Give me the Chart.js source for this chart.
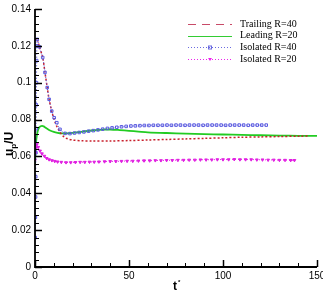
<!DOCTYPE html>
<html><head><meta charset="utf-8">
<script src="https://cdn.jsdelivr.net/npm/chart.js@4/dist/chart.umd.min.js"></script>
<style>html,body{margin:0;padding:0;background:#fff;}</style>
</head><body>
<canvas id="c" width="323" height="295" style="display:block;width:323px;height:295px"></canvas>
<script>
// ---- data (t*, u_p/U) ----
const xTickValues = [0, 50, 100, 150];
const xTickLabels = ['0', '50', '100', '150'];
const yTickValues = [0, 0.02, 0.04, 0.06, 0.08, 0.1, 0.12, 0.14];
const yTickLabels = ['0', '0.02', '0.04', '0.06', '0.08', '0.1', '0.12', '0.14'];

const seriesNames = ['Trailing R=40', 'Leading R=20', 'Isolated R=40', 'Isolated R=20'];

const trailingT = [0, 1, 2.3, 4.1, 5.3, 6.5, 7.5, 8.9, 10.2, 11.6, 13.3, 15, 17, 20, 25, 30, 40, 50, 60, 70, 80, 90, 100, 110, 120, 130, 141, 146];
const trailingU = [0.123, 0.124, 0.1195, 0.1137, 0.1056, 0.0974, 0.091, 0.0846, 0.0800, 0.0763, 0.0733, 0.0710, 0.0697, 0.0689, 0.0685, 0.0684, 0.0684, 0.0686, 0.0689, 0.0692, 0.0695, 0.0698, 0.0701, 0.0704, 0.0706, 0.0708, 0.0710, 0.0711];

const leadingT = [0, 0.3, 0.6, 1, 1.5, 2.2, 3, 3.8, 4.6, 5.5, 6.5, 8, 10, 12, 14, 17, 20, 24, 28, 32, 36, 40, 45, 50, 55, 60, 70, 80, 90, 100, 110, 120, 130, 140, 150];
const leadingU = [0.056, 0.063, 0.068, 0.0715, 0.074, 0.0757, 0.0764, 0.0766, 0.0763, 0.0757, 0.0750, 0.0741, 0.0733, 0.0728, 0.0725, 0.0725, 0.0728, 0.0733, 0.0738, 0.0742, 0.0745, 0.0746, 0.0743, 0.0739, 0.0735, 0.0731, 0.0727, 0.0724, 0.0721, 0.0719, 0.0717, 0.0715, 0.0713, 0.0712, 0.0711];

const isoR40T = [0.1, 0.2, 0.3, 0.4, 0.5, 0.6, 0.7, 0.8, 0.9, 1.0, 1.2, 2.3, 4.1, 5.3, 6.5, 7.5, 8.9, 10.2, 11.6, 13.3, 16, 18.6, 21, 23.5, 26, 28.5, 31, 33.5, 36, 38.5, 41, 43.5, 46, 48.5, 51, 53.4, 55.8, 58.2, 60.6, 63, 65.4, 67.8, 70.2, 72.6, 75, 77.4, 79.8, 82.2, 84.6, 87, 89.4, 91.8, 94.2, 96.6, 99, 101.4, 103.8, 106.2, 108.6, 111, 113.4, 115.8, 118.2, 120.6, 123];
const isoR40U = [0.016, 0.027, 0.038, 0.049, 0.062, 0.075, 0.088, 0.100, 0.112, 0.120, 0.1235, 0.1195, 0.1137, 0.1056, 0.0974, 0.0910, 0.0846, 0.0810, 0.0783, 0.0747, 0.0725, 0.0724, 0.0727, 0.0730, 0.0733, 0.0737, 0.0740, 0.0744, 0.0748, 0.0752, 0.0755, 0.0758, 0.0761, 0.0763, 0.0765, 0.0766, 0.0767, 0.0768, 0.0768, 0.0769, 0.0769, 0.0769, 0.0770, 0.0769, 0.0770, 0.0770, 0.0769, 0.0770, 0.0770, 0.0770, 0.0769, 0.0770, 0.0770, 0.0770, 0.0770, 0.0769, 0.0770, 0.0770, 0.0770, 0.0770, 0.0769, 0.0770, 0.0770, 0.0770, 0.0770];

const isoR20T = [0, 0.3, 0.6, 1, 1.7, 2.7, 3.7, 5, 6.2, 7.5, 9, 10.5, 12, 14, 16.5, 19, 21.5, 24, 26.5, 29, 31.5, 34, 37, 40, 43, 46, 49, 52, 55, 58, 61, 64, 67, 70, 73, 76, 79, 82, 85, 88, 91, 94, 97, 100, 103, 106, 109, 112, 115, 118, 121, 124, 127, 130, 133, 136, 138];
const isoR20U = [0.058, 0.062, 0.065, 0.0665, 0.065, 0.063, 0.0615, 0.0602, 0.0590, 0.0583, 0.0578, 0.0574, 0.0571, 0.0569, 0.0567, 0.0567, 0.0568, 0.0569, 0.0569, 0.0570, 0.0570, 0.0571, 0.0572, 0.0573, 0.0573, 0.0574, 0.0575, 0.0575, 0.0576, 0.0577, 0.0577, 0.0578, 0.0578, 0.0579, 0.0579, 0.0580, 0.0580, 0.0581, 0.0581, 0.0582, 0.0582, 0.0582, 0.0583, 0.0583, 0.0583, 0.0584, 0.0583, 0.0583, 0.0583, 0.0582, 0.0582, 0.0581, 0.0581, 0.0580, 0.0580, 0.0579, 0.0579];

const zip = (t, u) => t.map((x, i) => ({x: x, y: u[i]}));

const datasets = [
  {label: seriesNames[2], data: zip(isoR40T, isoR40U), borderColor: '#5050d8', borderWidth: 1, borderDash: [1, 2],
   pointStyle: 'rect', pointRadius: 1.8, pointBorderColor: '#5a5ae0', pointBackgroundColor: 'rgba(255,255,255,0)', pointBorderWidth: 1, order: 0},
  {label: seriesNames[0], data: zip(trailingT, trailingU), borderColor: '#c8202c', borderWidth: 1.5, borderDash: [2, 2],
   pointRadius: 0, order: 1},
  {label: seriesNames[3], data: zip(isoR20T, isoR20U), borderColor: '#ee22ee', borderWidth: 1, borderDash: [1, 2],
   pointStyle: 'triangle', rotation: 180, pointRadius: 1.6, pointBorderColor: '#e020e0', pointBackgroundColor: '#e020e0', pointBorderWidth: 1, order: 2},
  {label: seriesNames[1], data: zip(leadingT, leadingU), borderColor: '#22cc22', borderWidth: 1.8,
   pointRadius: 0, order: 3}
];

const legendStyles = [
  {name: seriesNames[0], color: '#c84a68', dash: [8, 6], width: 1, marker: null},
  {name: seriesNames[1], color: '#33cc33', dash: [], width: 1, marker: null},
  {name: seriesNames[2], color: '#6a6ae0', dash: [1, 2], width: 1, marker: 'rect'},
  {name: seriesNames[3], color: '#ee22ee', dash: [1, 2], width: 1, marker: 'tri'}
];

const decorPlugin = {
  id: 'decor',
  afterDraw(chart) {
    const ctx = chart.ctx;
    const xs = chart.scales.x, ys = chart.scales.y;
    const ca = chart.chartArea;
    ctx.save();
    ctx.strokeStyle = '#000';
    ctx.lineWidth = 1;
    for (let k = 0; k <= 35; k++) {
      const v = k * 0.004;
      const py = Math.round(ys.getPixelForValue(v)) + 0.5;
      const major = (k % 5 === 0);
      ctx.lineWidth = major ? 1.5 : 1;
      ctx.beginPath();
      ctx.moveTo(ca.left, py);
      ctx.lineTo(ca.left + (major ? 7 : 4), py);
      ctx.stroke();
    }
    for (let k = 0; k <= 15; k++) {
      const v = k * 10;
      const px = Math.round(xs.getPixelForValue(v)) + 0.5;
      const major = (k % 5 === 0);
      ctx.lineWidth = major ? 1.5 : 1;
      ctx.beginPath();
      ctx.moveTo(px, ca.bottom);
      ctx.lineTo(px, ca.bottom - (major ? 7 : 4));
      ctx.stroke();
    }
    ctx.lineWidth = 1.8;
    ctx.beginPath();
    ctx.moveTo(ca.left, ca.top);
    ctx.lineTo(ca.left, ca.bottom);
    ctx.lineTo(ca.right, ca.bottom);
    ctx.stroke();

    ctx.fillStyle = '#000';
    ctx.textBaseline = 'alphabetic';
    ctx.textAlign = 'left';
    ctx.font = 'bold 12px "Liberation Sans", Arial, sans-serif';
    ctx.fillText('t', 173, 290);
    ctx.font = 'bold 6px "Liberation Sans", Arial, sans-serif';
    ctx.fillText('*', 178, 284);

    ctx.save();
    ctx.translate(13, 156);
    ctx.rotate(-Math.PI / 2);
    ctx.font = 'bold 12px "Liberation Sans", Arial, sans-serif';
    ctx.fillText('u', 0, 0);
    let w = ctx.measureText('u').width;
    ctx.font = 'bold 8px "Liberation Sans", Arial, sans-serif';
    ctx.fillText('p', w, 3);
    w += ctx.measureText('p').width;
    ctx.font = 'bold 12px "Liberation Sans", Arial, sans-serif';
    ctx.fillText('/U', w, 0);
    ctx.restore();

    ctx.font = '10px "Liberation Serif", "Times New Roman", serif';
    ctx.textBaseline = 'middle';
    legendStyles.forEach((s, i) => {
      const y = 24 + i * 11.7;
      ctx.strokeStyle = s.color;
      ctx.lineWidth = s.width;
      ctx.setLineDash(s.dash);
      ctx.beginPath();
      ctx.moveTo(188, Math.round(y) + 0.5);
      ctx.lineTo(232, Math.round(y) + 0.5);
      ctx.stroke();
      ctx.setLineDash([]);
      if (s.marker === 'rect') {
        ctx.strokeRect(208.5, Math.round(y) - 1, 3, 3);
      } else if (s.marker === 'tri') {
        ctx.fillStyle = s.color;
        ctx.beginPath();
        ctx.moveTo(208, y - 1);
        ctx.lineTo(212, y - 1);
        ctx.lineTo(210, y + 2);
        ctx.closePath();
        ctx.fill();
      }
      ctx.fillStyle = '#000';
      ctx.fillText(s.name, 240, y);
    });
    ctx.restore();
  }
};

new Chart(document.getElementById('c'), {
  type: 'line',
  data: {datasets: datasets},
  options: {
    responsive: false,
    animation: false,
    devicePixelRatio: 1,
    layout: {padding: {left: 0, top: 9, right: 6, bottom: 0}},
    plugins: {legend: {display: false}, tooltip: {enabled: false}},
    elements: {line: {tension: 0.3}},
    scales: {
      x: {
        type: 'linear', min: 0, max: 150,
        grid: {display: false, drawTicks: false},
        border: {display: false},
        afterBuildTicks: (s) => { s.ticks = xTickValues.map(v => ({value: v})); },
        afterFit: (s) => { s.height = 28; s.paddingLeft = 0; s.paddingRight = 0; },
        ticks: {
          padding: 3, maxRotation: 0, autoSkip: false, color: '#000',
          font: {family: '"Liberation Sans", Arial, sans-serif', size: 10},
          callback: (v) => { const i = xTickValues.indexOf(v); return i >= 0 ? xTickLabels[i] : ''; }
        }
      },
      y: {
        type: 'linear', min: 0, max: 0.14,
        grid: {display: false, drawTicks: false},
        border: {display: false},
        afterBuildTicks: (s) => { s.ticks = yTickValues.map(v => ({value: v})); },
        afterFit: (s) => { s.width = 35; s.paddingTop = 0; s.paddingBottom = 0; },
        ticks: {
          padding: 4, autoSkip: false, color: '#000',
          font: {family: '"Liberation Sans", Arial, sans-serif', size: 10},
          callback: (v) => { const i = yTickValues.findIndex(t => Math.abs(t - v) < 1e-9); return i >= 0 ? yTickLabels[i] : ''; }
        }
      }
    }
  },
  plugins: [decorPlugin]
});
</script>
</body></html>
